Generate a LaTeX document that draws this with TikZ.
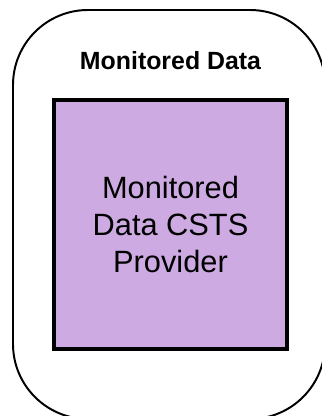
\documentclass[tikz,border=0pt]{standalone}
\usepackage{fontspec}
\setmainfont{Liberation Sans}
\usepackage{xcolor}
\usepackage{tikz}
\usetikzlibrary{positioning}
\definecolor{providerfill}{RGB}{205,170,226}

\begin{document}
\begin{tikzpicture}[
  container/.style={draw, line width=1.4pt, rounded corners=1.875cm, minimum width=7.8cm, minimum height=10.225cm},
  provbox/.style={draw, line width=2.4pt, fill=providerfill, align=center, minimum width=5.825cm, minimum height=6.225cm, font=\fontsize{21.9}{26.6}\selectfont},
  heading/.style={inner sep=0pt, font=\fontsize{17.7}{20}\selectfont\bfseries}
]
\useasboundingbox (0,0) rectangle (8.025,10.4);
\node[container] (monitored) at (4.225,5.0375) {};
\node[provbox] (provider) at (4.2625,4.7875) {Monitored\\Data CSTS\\Provider};
\node[heading, above=0.7cm of provider] (title) {Monitored Data};
\end{tikzpicture}
\end{document}
